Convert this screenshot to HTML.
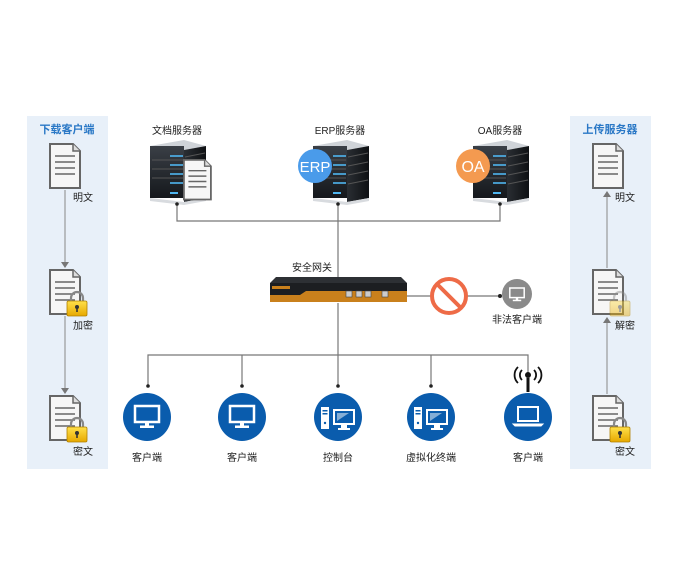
<!DOCTYPE html>
<html><head><meta charset="utf-8"><style>
html,body{margin:0;padding:0;background:#fff;}
svg{display:block;font-family:"Liberation Sans","Noto Sans CJK SC",sans-serif;}
</style></head><body>
<svg width="675" height="565" viewBox="0 0 675 565" xmlns="http://www.w3.org/2000/svg">
<defs>
<linearGradient id="srvF" x1="0" y1="0" x2="0" y2="1"><stop offset="0" stop-color="#3a3f46"/><stop offset="1" stop-color="#15181c"/></linearGradient>
<linearGradient id="srvS" x1="0" y1="0" x2="1" y2="0"><stop offset="0" stop-color="#2a2e33"/><stop offset="1" stop-color="#0e1013"/></linearGradient>
<linearGradient id="lock" x1="0" y1="0" x2="0" y2="1"><stop offset="0" stop-color="#ffe04a"/><stop offset="1" stop-color="#e7a800"/></linearGradient>
<g id="doc"><path d="M1 1 H24 L31 8 V45 H1 Z" fill="#f6f6f6" stroke="#666" stroke-width="2"/><path d="M24 1 V8 H31" fill="#ddd" stroke="#666" stroke-width="1.5"/><g stroke="#666" stroke-width="1.6"><line x1="6" y1="13" x2="26" y2="13"/><line x1="6" y1="19" x2="26" y2="19"/><line x1="6" y1="25" x2="26" y2="25"/><line x1="6" y1="31" x2="26" y2="31"/></g></g>
<g id="lk"><path d="M4 9 V6 a6 6 0 0 1 12 0 V9" fill="none" stroke="#888" stroke-width="2.2"/><rect x="0" y="9" width="20" height="15" rx="1.5" fill="url(#lock)" stroke="#b08000" stroke-width="0.8"/><circle cx="10" cy="15" r="2" fill="#333"/><rect x="9.2" y="15" width="1.6" height="5" fill="#333"/></g>
<g id="srv"><path d="M0 6 L34 0 L56 6 L34 10 Z" fill="#cfd3d8"/><rect x="0" y="6" width="34" height="52" fill="url(#srvF)"/><path d="M34 10 L56 6 V58 L34 62 Z" fill="url(#srvS)"/><g stroke="#4fb6f0" stroke-width="1.6"><line x1="20" y1="16" x2="33" y2="16"/><line x1="20" y1="25" x2="33" y2="25"/><line x1="20" y1="34" x2="33" y2="34"/><line x1="20" y1="43" x2="33" y2="43"/></g><g stroke="#555" stroke-width="1"><line x1="2" y1="20" x2="33" y2="20"/><line x1="2" y1="29" x2="33" y2="29"/><line x1="2" y1="38" x2="33" y2="38"/><line x1="35" y1="17" x2="55" y2="13"/><line x1="35" y1="26" x2="55" y2="22"/><line x1="35" y1="35" x2="55" y2="31"/><line x1="35" y1="44" x2="55" y2="40"/></g><rect x="20" y="52" width="8" height="2" fill="#4fb6f0"/><path d="M0 58 L34 62 L56 58 L56 61 L34 65 L0 61Z" fill="#d8dbdf"/></g>
<g id="mon"><rect x="-12" y="-10" width="24" height="16" fill="none" stroke="#fff" stroke-width="2.5"/><rect x="-2" y="6" width="4" height="4" fill="#fff"/><rect x="-7" y="9.5" width="14" height="2.5" fill="#fff"/></g>
<g id="pc"><rect x="-17" y="-11" width="8" height="22" fill="#fff"/><rect x="-15.5" y="-8" width="5" height="1.5" fill="#0a5cad"/><rect x="-15.5" y="-5" width="5" height="1.5" fill="#0a5cad"/><circle cx="-13" cy="5" r="1.2" fill="#0a5cad"/><path d="M-5 -9 H17 V7 H-5 Z" fill="#fff"/><path d="M-3 -7 H15 V5 H-3Z" fill="#0a5cad"/><path d="M-1 -5 L11 -5 L-1 3Z" fill="#fff" opacity="0.5"/><rect x="3" y="7" width="6" height="3" fill="#fff"/><rect x="0" y="10" width="12" height="2" fill="#fff"/></g>
</defs>

<!-- side panels -->
<rect x="27" y="116" width="81" height="353" fill="#e8f0f9"/>
<rect x="570" y="116" width="81" height="353" fill="#e8f0f9"/>
<text x="67" y="133" font-size="11" fill="#2a78c6" text-anchor="middle" font-weight="bold">下载客户端</text>
<text x="610" y="133" font-size="11" fill="#2a78c6" text-anchor="middle" font-weight="bold">上传服务器</text>

<!-- left docs -->
<use href="#doc" x="49" y="143"/>
<use href="#doc" x="49" y="269"/>
<use href="#lk" x="67" y="292"/>
<use href="#doc" x="49" y="395"/>
<use href="#lk" x="67" y="418"/>
<g stroke="#888" stroke-width="1"><line x1="65" y1="190" x2="65" y2="262"/><line x1="65" y1="316" x2="65" y2="388"/></g>
<path d="M61 262 L69 262 L65 268Z M61 388 L69 388 L65 394Z" fill="#777"/>
<g font-size="10" fill="#222"><text x="73" y="201">明文</text><text x="73" y="329">加密</text><text x="73" y="455">密文</text></g>

<!-- right docs -->
<use href="#doc" x="592" y="143"/>
<use href="#doc" x="592" y="269"/>
<g opacity="0.45"><use href="#lk" x="610" y="292"/></g>
<use href="#doc" x="592" y="395"/>
<use href="#lk" x="610" y="418"/>
<g stroke="#888" stroke-width="1"><line x1="607" y1="196" x2="607" y2="268"/><line x1="607" y1="322" x2="607" y2="394"/></g>
<path d="M603 197 L611 197 L607 191Z M603 323 L611 323 L607 317Z" fill="#777"/>
<g font-size="10" fill="#222"><text x="615" y="201">明文</text><text x="615" y="329">解密</text><text x="615" y="455">密文</text></g>

<!-- servers -->
<g font-size="10" fill="#222" text-anchor="middle"><text x="177" y="134">文档服务器</text><text x="340" y="134">ERP服务器</text><text x="500" y="134">OA服务器</text></g>
<use href="#srv" x="150" y="140"/>
<g transform="translate(183,159) scale(0.9)"><use href="#doc"/></g>
<use href="#srv" x="313" y="140"/>
<circle cx="315" cy="166" r="17" fill="#4a9bea"/><text x="315" y="172" font-size="15" fill="#fff" text-anchor="middle">ERP</text>
<use href="#srv" x="473" y="140"/>
<circle cx="473" cy="166" r="17" fill="#f49a50"/><text x="473" y="172" font-size="16" fill="#fff" text-anchor="middle">OA</text>

<!-- top lines -->
<g stroke="#777" stroke-width="1.2" fill="none">
<path d="M177 204 V221 H500 V204"/>
<line x1="338" y1="204" x2="338" y2="278"/>
<line x1="338" y1="303" x2="338" y2="386"/>
<line x1="405" y1="296" x2="500" y2="296"/>
<path d="M148 386 V355 H528 V376"/>
<line x1="242" y1="355" x2="242" y2="386"/>
<line x1="431" y1="355" x2="431" y2="386"/>
</g>
<g fill="#222"><circle cx="177" cy="204" r="1.8"/><circle cx="338" cy="204" r="1.8"/><circle cx="500" cy="204" r="1.8"/><circle cx="500" cy="296" r="2"/><circle cx="148" cy="386" r="1.8"/><circle cx="242" cy="386" r="1.8"/><circle cx="338" cy="386" r="1.8"/><circle cx="431" cy="386" r="1.8"/></g>

<!-- gateway -->
<text x="312" y="271" font-size="10" fill="#222" text-anchor="middle">安全网关</text>
<path d="M276 277 H401 L407 283 H270 Z" fill="#2d3034"/>
<rect x="270" y="283" width="137" height="19" fill="#1c1e21"/>
<path d="M270 295 H300 L306 291 H407 V302 H270 Z" fill="#c9801c"/>
<rect x="272" y="286" width="18" height="3" fill="#c9801c"/>
<g fill="#ccc" stroke="#444" stroke-width="0.6"><rect x="346" y="291" width="6" height="6"/><rect x="356" y="291" width="6" height="6"/><rect x="365" y="291" width="6" height="6"/><rect x="382" y="291" width="6" height="6"/></g>

<!-- forbidden -->
<circle cx="449" cy="296" r="17" fill="#fff" stroke="#ee6b47" stroke-width="4"/>
<line x1="437" y1="284" x2="461" y2="308" stroke="#ee6b47" stroke-width="4"/>
<circle cx="517" cy="294" r="15" fill="#8a8a8a"/>
<g transform="translate(517,294) scale(0.6)"><use href="#mon"/></g>
<text x="517" y="323" font-size="10" fill="#222" text-anchor="middle">非法客户端</text>

<!-- bottom clients -->
<g fill="#0a5cad"><circle cx="147" cy="417" r="24"/><circle cx="242" cy="417" r="24"/><circle cx="338" cy="417" r="24"/><circle cx="431" cy="417" r="24"/><circle cx="528" cy="417" r="24"/></g>
<g transform="translate(147,416)"><use href="#mon"/></g>
<g transform="translate(242,416)"><use href="#mon"/></g>
<g transform="translate(338,418)"><use href="#pc"/></g>
<g transform="translate(431,418)"><use href="#pc"/></g>
<g transform="translate(528,416)" fill="none" stroke="#fff" stroke-width="2"><rect x="-10" y="-9" width="20" height="14"/><path d="M-15 8 H15 L13 10 H-13 Z" fill="#fff" stroke-width="1"/></g>
<!-- wireless -->
<line x1="528" y1="378" x2="528" y2="392" stroke="#111" stroke-width="3"/>
<circle cx="528" cy="375" r="3" fill="#111"/>
<g fill="none" stroke="#111" stroke-width="1.8"><path d="M522 370 a7 7 0 0 0 0 10"/><path d="M534 370 a7 7 0 0 1 0 10"/><path d="M518 367 a11 11 0 0 0 0 16"/><path d="M538 367 a11 11 0 0 1 0 16"/></g>
<g font-size="10" fill="#222" text-anchor="middle"><text x="147" y="461">客户端</text><text x="242" y="461">客户端</text><text x="338" y="461">控制台</text><text x="431" y="461">虚拟化终端</text><text x="528" y="461">客户端</text></g>
</svg>
</body></html>
